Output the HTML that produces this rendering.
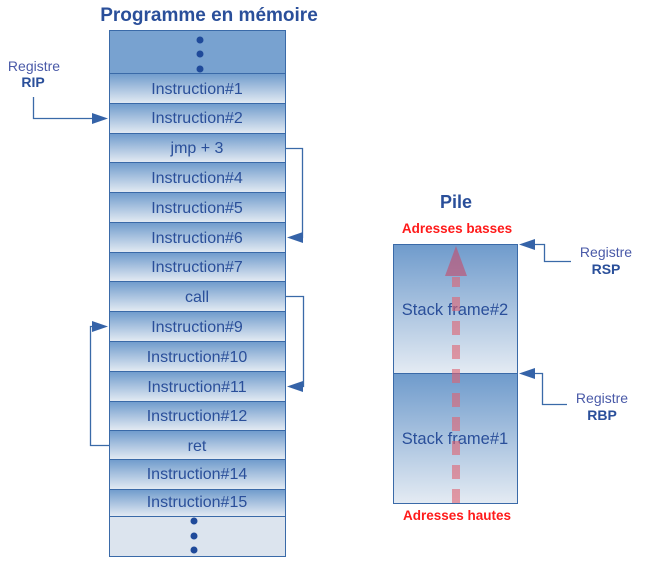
<!DOCTYPE html>
<html><head><meta charset="utf-8"><style>
html,body{margin:0;padding:0;background:#fff;}
svg{display:block;font-family:"Liberation Sans",sans-serif;}
</style></head><body>
<svg width="650" height="563" viewBox="0 0 650 563" xmlns="http://www.w3.org/2000/svg">
<defs>
<linearGradient id="g" x1="0" y1="0" x2="0" y2="1">
<stop offset="0" stop-color="#6f9bcc"/><stop offset="1" stop-color="#e4ebf3"/>
</linearGradient>
</defs>
<text x="209" y="21" text-anchor="middle" font-size="19" font-weight="bold" fill="#2a4f9a">Programme en mémoire</text>
<rect x="109.5" y="30.5" width="176" height="43" fill="#78a2d0" stroke="#3a6aa8"/>
<circle cx="200" cy="40" r="3.5" fill="#1f4a9a"/><circle cx="200" cy="54" r="3.5" fill="#1f4a9a"/><circle cx="200" cy="69" r="3.5" fill="#1f4a9a"/>
<g stroke="#3a6aa8" fill="url(#g)">
<rect x="109.5" y="73.5" width="176" height="30"/>
<rect x="109.5" y="103.5" width="176" height="30"/>
<rect x="109.5" y="133.5" width="176" height="29"/>
<rect x="109.5" y="162.5" width="176" height="30"/>
<rect x="109.5" y="192.5" width="176" height="30"/>
<rect x="109.5" y="222.5" width="176" height="30"/>
<rect x="109.5" y="252.5" width="176" height="29"/>
<rect x="109.5" y="281.5" width="176" height="30"/>
<rect x="109.5" y="311.5" width="176" height="30"/>
<rect x="109.5" y="341.5" width="176" height="30"/>
<rect x="109.5" y="371.5" width="176" height="30"/>
<rect x="109.5" y="401.5" width="176" height="29"/>
<rect x="109.5" y="430.5" width="176" height="29"/>
<rect x="109.5" y="459.5" width="176" height="30"/>
<rect x="109.5" y="489.5" width="176" height="27"/>
</g>
<rect x="109.5" y="516.5" width="176" height="40" fill="#dce4ee" stroke="#3a6aa8"/>
<circle cx="194" cy="521" r="3.5" fill="#1f4a9a"/><circle cx="194" cy="536" r="3.5" fill="#1f4a9a"/><circle cx="194" cy="550" r="3.5" fill="#1f4a9a"/>
<g font-size="16" fill="#2a4f9a" text-anchor="middle">
<text x="197" y="94">Instruction#1</text>
<text x="197" y="123">Instruction#2</text>
<text x="197" y="153">jmp + 3</text>
<text x="197" y="183">Instruction#4</text>
<text x="197" y="213">Instruction#5</text>
<text x="197" y="243">Instruction#6</text>
<text x="197" y="272">Instruction#7</text>
<text x="197" y="302">call</text>
<text x="197" y="332">Instruction#9</text>
<text x="197" y="362">Instruction#10</text>
<text x="197" y="392">Instruction#11</text>
<text x="197" y="421">Instruction#12</text>
<text x="197" y="451">ret</text>
<text x="197" y="479">Instruction#14</text>
<text x="197" y="507">Instruction#15</text>
</g>
<text x="34" y="71" text-anchor="middle" font-size="14" fill="#4a5aa8">Registre</text>
<text x="33" y="87" text-anchor="middle" font-size="14" font-weight="bold" fill="#2a4f9a">RIP</text>
<g stroke="#3a6aa8" stroke-width="1.3" fill="none">
<path d="M33.5 97 V118.5 H94"/>
<path d="M285 148.5 H302.5 V237.5 H300"/>
<path d="M285 296.5 H303.5 V386.5 H300"/>
<path d="M109 445.5 H90.5 V326.5 H94"/>
<path d="M533 244.5 H544.5 V261.5 H571"/>
<path d="M533 373.5 H542.5 V404.5 H567"/>
</g>
<g fill="#3563a8">
<polygon points="92,113 108,118.5 92,124"/>
<polygon points="303,232 287,237.5 303,243"/>
<polygon points="303,381 287,386.5 303,392"/>
<polygon points="92,321 108,326.5 92,332"/>
<polygon points="535,239 519,244.5 535,250"/>
<polygon points="535,368 519,373.5 535,379"/>
</g>
<text x="456" y="208" text-anchor="middle" font-size="18" font-weight="bold" fill="#2a4f9a">Pile</text>
<text x="457" y="233" text-anchor="middle" font-size="13.5" font-weight="bold" fill="#ff1a1a">Adresses basses</text>
<rect x="393.5" y="244.5" width="124" height="129" fill="url(#g)" stroke="#3a6aa8"/>
<rect x="393.5" y="373.5" width="124" height="130" fill="url(#g)" stroke="#3a6aa8"/>
<text x="455" y="315" text-anchor="middle" font-size="16.5" fill="#2a4f9a">Stack frame#2</text>
<text x="455" y="444" text-anchor="middle" font-size="16.5" fill="#2a4f9a">Stack frame#1</text>
<line x1="456" y1="503" x2="456" y2="277" stroke="#e06070" stroke-opacity="0.6" stroke-width="8" stroke-dasharray="14 10"/>
<polygon points="456,246 445,276 467,276" fill="#c05070" fill-opacity="0.65"/>
<text x="457" y="520" text-anchor="middle" font-size="13.5" font-weight="bold" fill="#ff1a1a">Adresses hautes</text>
<text x="606" y="257" text-anchor="middle" font-size="14" fill="#4a5aa8">Registre</text>
<text x="606" y="274" text-anchor="middle" font-size="14" font-weight="bold" fill="#2a4f9a">RSP</text>
<text x="602" y="403" text-anchor="middle" font-size="14" fill="#4a5aa8">Registre</text>
<text x="602" y="420" text-anchor="middle" font-size="14" font-weight="bold" fill="#2a4f9a">RBP</text>
</svg>
</body></html>
